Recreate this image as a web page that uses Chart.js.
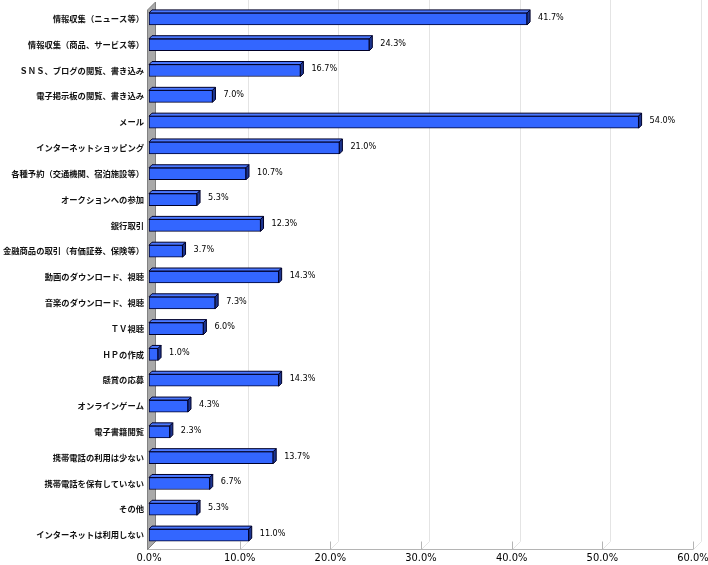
<!DOCTYPE html>
<html>
<head>
<meta charset="utf-8">
<script src="https://cdn.jsdelivr.net/npm/chart.js@4.4.0/dist/chart.umd.min.js"></script>
<style>
  html, body { margin: 0; padding: 0; background: #fff; }
  #wrap { width: 708px; height: 565px; }
</style>
</head>
<body>
<div id="wrap"><canvas id="usage" width="708" height="565"></canvas></div>
<script>
// ---- data ----
const categories = [
  '情報収集（ニュース等）',
  '情報収集（商品、サービス等）',
  'ＳＮＳ、ブログの閲覧、書き込み',
  '電子掲示板の閲覧、書き込み',
  'メール',
  'インターネットショッピング',
  '各種予約（交通機関、宿泊施設等）',
  'オークションへの参加',
  '銀行取引',
  '金融商品の取引（有価証券、保険等）',
  '動画のダウンロード、視聴',
  '音楽のダウンロード、視聴',
  'ＴＶ視聴',
  'ＨＰの作成',
  '懸賞の応募',
  'オンラインゲーム',
  '電子書籍閲覧',
  '携帯電話の利用は少ない',
  '携帯電話を保有していない',
  'その他',
  'インターネットは利用しない'
];
const values = [41.7, 24.3, 16.7, 7.0, 54.0, 21.0, 10.7, 5.3, 12.3, 3.7, 14.3, 7.3, 6.0, 1.0, 14.3, 4.3, 2.3, 13.7, 6.7, 5.3, 11.0];
const xTicks = [0, 10, 20, 30, 40, 50, 60];

// ---- 3D look ----
const DEPTH = 8;   // depth of wall / back grid
const BAR_D = 3;   // depth of each bar

const backdrop = {
  id: 'backdrop',
  beforeDatasetsDraw(chart) {
    const { ctx, chartArea: a, scales: { x } } = chart;
    const floor = a.bottom + 1.5;
    ctx.save();
    ctx.lineWidth = 1;

    // back grid lines
    xTicks.forEach(t => {
      if (t === 0) return;
      const px = Math.round(x.getPixelForValue(t)) + 0.5;
      ctx.strokeStyle = '#e4e4e4';
      ctx.beginPath();
      ctx.moveTo(px + DEPTH, 0);
      ctx.lineTo(px + DEPTH, floor - DEPTH);
      ctx.lineTo(px, floor);
      ctx.stroke();
      ctx.strokeStyle = '#b4b4b4';
      ctx.beginPath();
      ctx.moveTo(px, floor - DEPTH);
      ctx.lineTo(px, floor);
      ctx.stroke();
    });

    // floor line
    ctx.strokeStyle = '#b4b4b4';
    ctx.beginPath();
    ctx.moveTo(a.left - 2, floor);
    ctx.lineTo(a.right, floor);
    ctx.stroke();

    // left wall
    const wl = a.left - 1.5;
    ctx.fillStyle = '#a9a9a9';
    ctx.strokeStyle = '#808080';
    ctx.beginPath();
    ctx.moveTo(wl, floor);
    ctx.lineTo(wl, a.top + 4);
    ctx.lineTo(wl + DEPTH, a.top - 4);
    ctx.lineTo(wl + DEPTH, floor - DEPTH);
    ctx.closePath();
    ctx.fill();
    ctx.stroke();
    ctx.restore();
  },
  afterDatasetsDraw(chart) {
    const { ctx } = chart;
    const meta = chart.getDatasetMeta(0);
    ctx.save();
    ctx.lineWidth = 1;
    ctx.strokeStyle = '#000028';
    meta.data.forEach((bar, i) => {
      const p = bar.getProps(['x', 'y', 'base', 'height'], true);
      const top = p.y - p.height / 2;
      const bottom = p.y + p.height / 2;
      // top face
      ctx.fillStyle = '#4a78ff';
      ctx.beginPath();
      ctx.moveTo(p.base, top);
      ctx.lineTo(p.base + BAR_D, top - BAR_D);
      ctx.lineTo(p.x + BAR_D, top - BAR_D);
      ctx.lineTo(p.x, top);
      ctx.closePath();
      ctx.fill();
      ctx.stroke();
      // side face
      ctx.fillStyle = '#1c3590';
      ctx.beginPath();
      ctx.moveTo(p.x, top);
      ctx.lineTo(p.x + BAR_D, top - BAR_D);
      ctx.lineTo(p.x + BAR_D, bottom - BAR_D);
      ctx.lineTo(p.x, bottom);
      ctx.closePath();
      ctx.fill();
      ctx.stroke();
      // value label
      ctx.fillStyle = '#000';
      ctx.font = '9px "Liberation Sans Narrow", "DejaVu Sans Condensed", sans-serif';
      ctx.textAlign = 'left';
      ctx.textBaseline = 'middle';
      ctx.fillText(values[i].toFixed(1) + '%', p.x + BAR_D + 8, p.y - 1.5);
    });
    ctx.restore();
  }
};

new Chart(document.getElementById('usage'), {
  type: 'bar',
  data: {
    labels: categories,
    datasets: [{
      data: values,
      backgroundColor: '#3366ff',
      borderColor: '#000028',
      borderWidth: 1,
      borderSkipped: false,
      barThickness: 12
    }]
  },
  options: {
    indexAxis: 'y',
    responsive: false,
    animation: false,
    layout: { padding: { top: 6, right: 15, left: 0, bottom: 0 } },
    plugins: { legend: { display: false }, tooltip: { enabled: false } },
    scales: {
      x: {
        min: 0,
        max: 60,
        afterBuildTicks: (s) => { s.ticks = xTicks.map(v => ({ value: v })); },
        grid: { display: false, drawTicks: false },
        border: { display: false },
        ticks: {
          padding: 4,
          color: '#000',
          font: { family: '"Liberation Sans Narrow", "DejaVu Sans Condensed", sans-serif', size: 11 },
          callback: (v) => Number(v).toFixed(1) + '%',
          maxRotation: 0
        },
        afterFit: (s) => { s.height = 17; s.paddingLeft = 0; s.paddingRight = 0; }
      },
      y: {
        grid: { display: false, drawTicks: false },
        border: { display: false },
        ticks: {
          padding: 5,
          color: '#111',
          autoSkip: false,
          font: { family: '"Noto Sans CJK JP", sans-serif', size: 8.3, weight: 'bold' }
        },
        afterFit: (s) => { s.width = 149; s.paddingTop = 0; s.paddingBottom = 0; }
      }
    }
  },
  plugins: [backdrop]
});
</script>
</body>
</html>
